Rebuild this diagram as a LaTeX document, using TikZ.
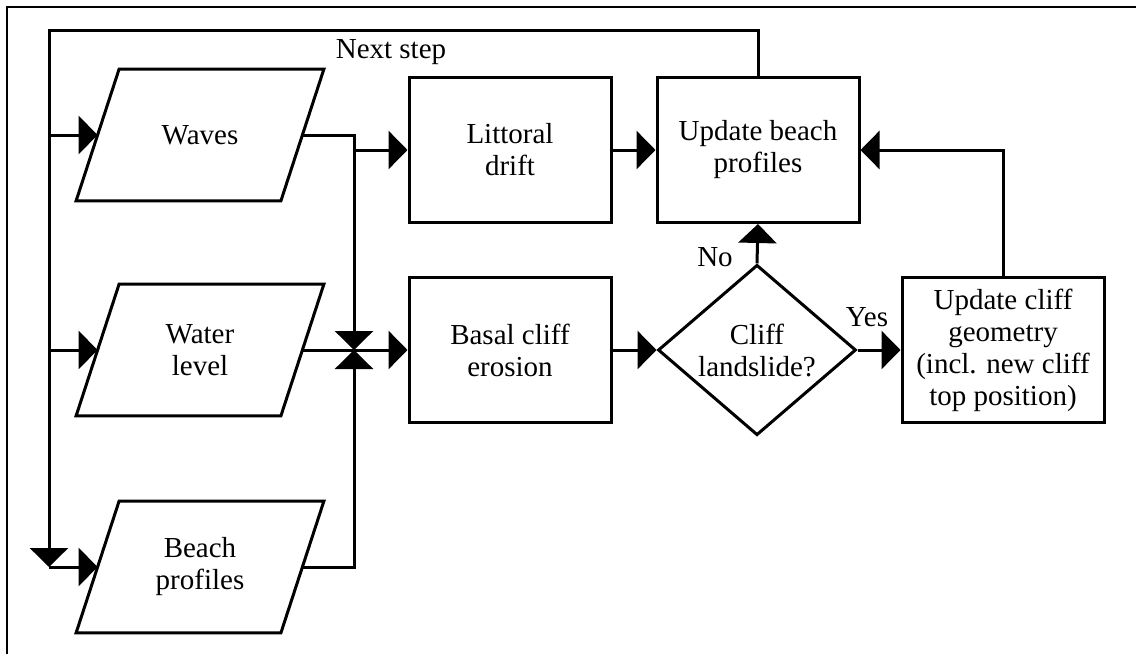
\documentclass[tikz,border=0pt]{standalone}
\usepackage{fontspec}
\setmainfont{Liberation Serif}
\usetikzlibrary{shapes.geometric,arrows.meta}

\begin{document}
\begin{tikzpicture}[x=0.5pt,y=-0.5pt,
	every node/.style={font=\fontsize{14.5}{16}\selectfont},
	line/.style={line width=1.5pt},
	arr/.style={line/.try,-{Triangle[length=9.5pt,width=19pt]}},
	inputbox/.style={rectangle,minimum width=102pt,minimum height=65.5pt,inner sep=0pt,align=center},
	procbox/.style={draw,line width=1.5pt,rectangle,minimum width=101pt,minimum height=72.5pt,inner sep=2pt,align=center},
	decbox/.style={draw,line width=1.5pt,diamond,minimum width=99pt,minimum height=82.5pt,inner sep=0pt,align=center}]
		\useasboundingbox (0,0) rectangle (1136,654);
		\draw[line width=1pt] (7,654) -- (7,7) -- (1136,7);
		\node[inputbox] (waves) at (200,135) {Waves};
		\node[inputbox] (water) at (200,350) {Water\\level};
		\node[inputbox] (beachin) at (200,567) {Beach\\profiles};
		\foreach \n in {waves,water,beachin}
			\draw[line] ([xshift=-10.75pt]\n.south west) -- ([xshift=10.75pt]\n.north west)
				-- ([xshift=10.75pt]\n.north east) -- ([xshift=-10.75pt]\n.south east) -- cycle;
		\node[procbox] (littoral) at (510,150) {Littoral\\drift};
		\node[procbox] (basal) at (510,350) {Basal cliff\\erosion};
		\node[procbox] (update) at (758,150) {Update beach\\profiles};
		\node[decbox] (landslide) at (757,350) {Cliff\\landslide?};
		\node[procbox] (geometry) at (1003,350) {Update cliff\\geometry\\(incl. new cliff\\top position)};
		\coordinate (fbtop) at (49,30);
		\coordinate (fbend) at (49,567);
		\coordinate (bus) at (354,350);
		\draw[arr] (update.north) |- (fbtop) -- (fbend);
		\node (nextlbl) at (391,52) {Next step};
		\draw[arr] (waves.west -| fbtop) -- (waves.west);
		\draw[arr] (water.west -| fbtop) -- (water.west);
		\draw[arr] (fbend) -- (beachin.west);
		\draw[arr] (waves.east) -| (bus);
		\draw[arr] (beachin.east) -| (bus);
		\draw[arr] (waves.east -| bus) |- (littoral.west);
		\draw[arr] (water.east) -- (basal.west);
		\draw[arr] (littoral.east) -- (update.west);
		\draw[arr] (basal.east) -- (landslide.west);
		\draw[arr] (landslide.north) -- (update.south);
		\node (nolbl) at (715,257) {No};
		\draw[arr] (landslide.east) -- (geometry.west);
		\node (yeslbl) at (867,317) {Yes};
		\draw[arr] (geometry.north) |- (update.east);
	\end{tikzpicture}
\end{document}
